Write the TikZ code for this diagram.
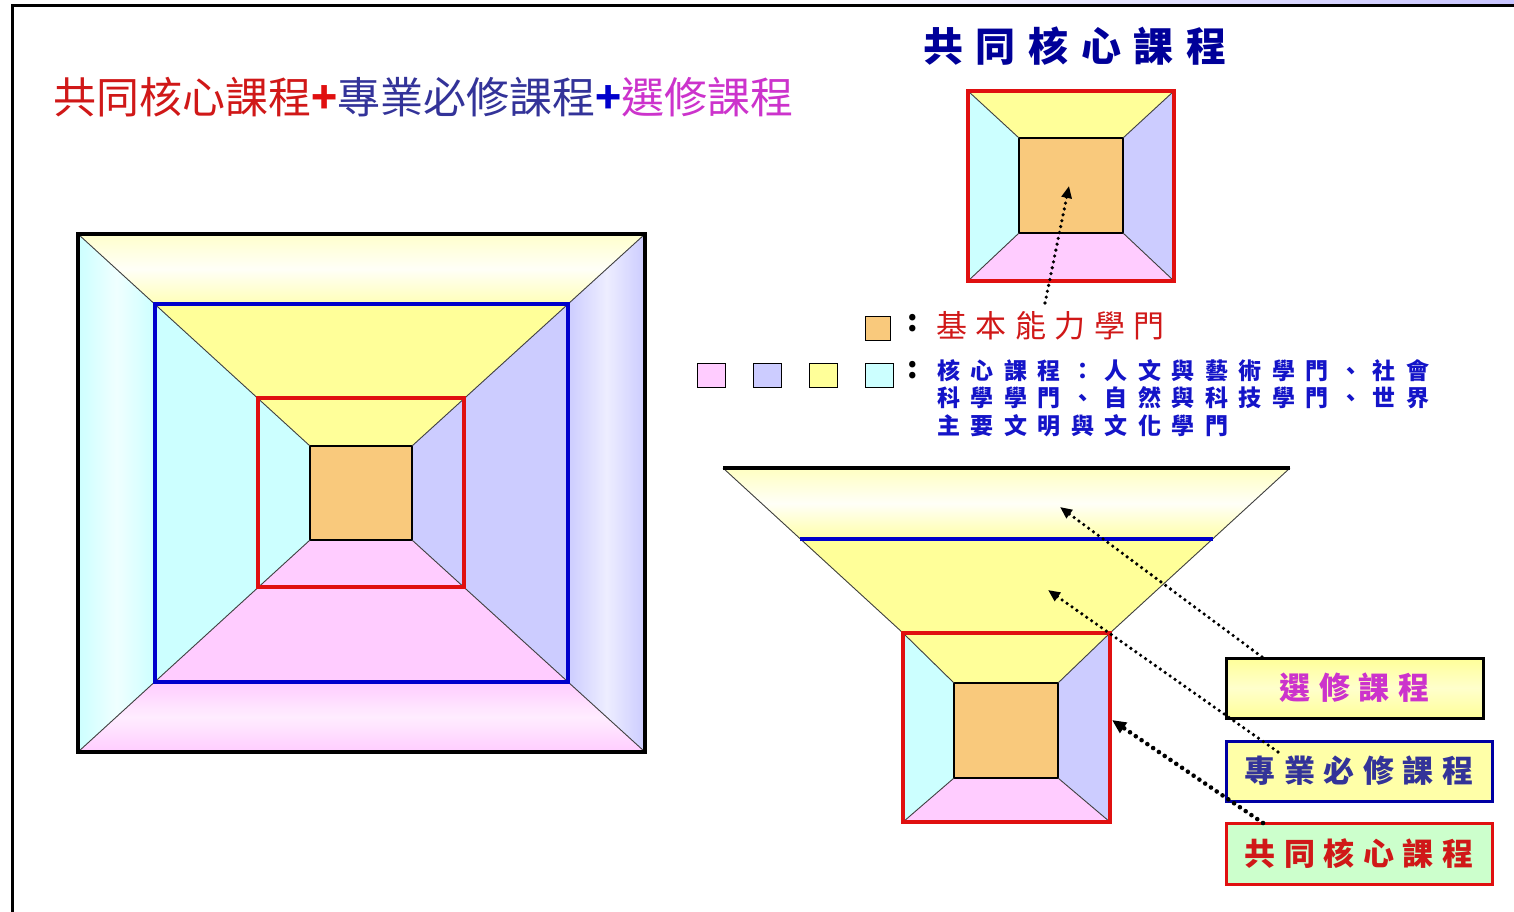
\documentclass[tikz,border=0pt]{standalone}
\usepackage{fontspec}
\newfontfamily\cjk{Noto Sans CJK TC}
\usetikzlibrary{arrows.meta}
\definecolor{cY}{HTML}{FFFF99}
\definecolor{cC}{HTML}{CCFFFF}
\definecolor{cL}{HTML}{CCCCFF}
\definecolor{cP}{HTML}{FFCCFF}
\definecolor{cO}{HTML}{F9C97C}
\definecolor{cRed}{HTML}{E01010}
\definecolor{cBlue}{HTML}{0000CC}
\definecolor{tNavy}{HTML}{000099}
\definecolor{tRed}{HTML}{D01818}
\definecolor{tBlue}{HTML}{333399}
\definecolor{tMag}{HTML}{CC33CC}
\definecolor{lgBlue}{HTML}{1414C8}
\definecolor{cG}{HTML}{CCFFCC}
\definecolor{lavtop}{HTML}{C8C4FF}
\makeatletter
\newcommand\lsp[2]{\def\lsp@k{#1}\lsp@loop#2\lsp@end}
\def\lsp@loop#1#2{#1\ifx#2\lsp@end\else\kern\lsp@k\expandafter\lsp@loop\expandafter#2\fi}
\makeatother
\begin{document}
\begin{tikzpicture}[x=1pt,y=-1pt,
  diag/.style={draw=black!75, line width=0.9},
  frameR/.style={draw=cRed, line width=4},
  frameB/.style={draw=cBlue, line width=3.5},
  inner/.style={fill=cO, draw=black, line width=1.3},
  txt/.style={inner sep=0pt, font=\cjk},
  lab/.style={inner sep=0pt, minimum height=60pt, line width=3},
  dotarrow/.style={line width=3.6, dash pattern=on 0pt off 6pt, line cap=round, -{Triangle[length=12pt,width=10pt]}},
  dotarrowb/.style={line width=4.6, dash pattern=on 0pt off 7pt, line cap=round, -{Triangle[length=14pt,width=12pt]}},
  leg/.style={draw=black, line width=1}]
\useasboundingbox (0,0) rectangle (1514,912);
\fill[white] (0,0) rectangle (1514,912);
% frame
\shade[left color=white, right color=lavtop] (820,0) rectangle (1514,5.5);
\draw[line width=3] (12,912) -- (12,6) -- (1514,6);

% ===== top-left title =====
\node[txt, anchor=west, font=\cjk\fontsize{43}{43}\selectfont] (title) at (53,97)
  {\textcolor{tRed}{共同核心課程}\textcolor{cRed}{\bfseries +}\textcolor{tBlue}{專業必修課程}\textcolor{cBlue}{\bfseries +}\textcolor{tMag}{選修課程}};

% ===== left big square =====
\coordinate (o1) at (78,234); \coordinate (o2) at (645,234);
\coordinate (o3) at (645,752); \coordinate (o4) at (78,752);
\coordinate (b1) at (155,304); \coordinate (b2) at (568,304);
\coordinate (b3) at (568,682); \coordinate (b4) at (155,682);
\coordinate (i1) at (310,446); \coordinate (i2) at (412,446);
\coordinate (i3) at (412,540); \coordinate (i4) at (310,540);
\shade[top color=cY!50, bottom color=cY!70, middle color=white!97!yellow] (o1)--(o2)--(b2)--(b1)--cycle;
\shade[left color=cC, right color=cC, middle color=white!94!cyan] (o1)--(b1)--(b4)--(o4)--cycle;
\shade[left color=cL, right color=cL, middle color=white!93!blue] (o2)--(b2)--(b3)--(o3)--cycle;
\shade[top color=cP, bottom color=cP, middle color=white!93!magenta] (o4)--(b4)--(b3)--(o3)--cycle;
\fill[cY] (b1)--(b2)--(i2)--(i1)--cycle;
\fill[cC] (b1)--(i1)--(i4)--(b4)--cycle;
\fill[cL] (b2)--(i2)--(i3)--(b3)--cycle;
\fill[cP] (b4)--(i4)--(i3)--(b3)--cycle;
\draw[inner] (i1) rectangle (i3);
\draw[diag] (o1)--(i1) (o2)--(i2) (o3)--(i3) (o4)--(i4);
\draw[frameB] (b1) rectangle (b3);
\draw[frameR] (258,398) rectangle (464,587);
\draw[line width=4] (o1) rectangle (o3);

% ===== top-right title and square =====
\node[txt, anchor=west, font=\cjk\bfseries\fontsize{40}{40}\selectfont, text=tNavy] (tr) at (923,46)
  {\lsp{12.6pt}{共同核心課程}};
\coordinate (p1) at (968,91); \coordinate (p2) at (1174,91);
\coordinate (p3) at (1174,281); \coordinate (p4) at (968,281);
\coordinate (q1) at (1019,138); \coordinate (q2) at (1123,138);
\coordinate (q3) at (1123,233); \coordinate (q4) at (1019,233);
\fill[cY] (p1)--(p2)--(q2)--(q1)--cycle;
\fill[cC] (p1)--(q1)--(q4)--(p4)--cycle;
\fill[cL] (p2)--(q2)--(q3)--(p3)--cycle;
\fill[cP] (p4)--(q4)--(q3)--(p3)--cycle;
\draw[inner] (q1) rectangle (q3);
\draw[diag] (p1)--(q1) (p2)--(q2) (p3)--(q3) (p4)--(q4);
\draw[frameR] (p1) rectangle (p3);
\coordinate (a0s) at (1045,303);
\coordinate (a0e) at (1069,186);
\draw[dotarrow] (a0s) -- (a0e);

% ===== legend =====
\draw[leg, fill=cO] (865,316) rectangle (890,340);
\node[txt, font=\cjk\bfseries\fontsize{30}{30}\selectfont] (c1) at (913,323) {:};
\node[txt, anchor=west, font=\cjk\fontsize{31}{31}\selectfont, text=tRed] (l1) at (936,326)
  {\lsp{8.5pt}{基本能力學門}};
\draw[leg, fill=cP] (697,363) rectangle (725,387);
\draw[leg, fill=cL] (753,363) rectangle (781,387);
\draw[leg, fill=cY] (809,363) rectangle (837,387);
\draw[leg, fill=cC] (865,363) rectangle (893,387);
\node[txt, font=\cjk\bfseries\fontsize{30}{30}\selectfont] (c2) at (913,370) {:};
\node[txt, anchor=north west, align=left, font=\cjk\bfseries\fontsize{23}{27.5}\selectfont, text=lgBlue] (l2) at (937,359)
  {\lsp{10.5pt}{核心課程：人文與藝術學門、社會}\\\lsp{10.5pt}{科學學門、自然與科技學門、世界}\\\lsp{10.5pt}{主要文明與文化學門}};

% ===== funnel =====
\coordinate (f1) at (723,468); \coordinate (f2) at (1290,468);
\coordinate (f3) at (1213,539); \coordinate (f4) at (800,539);
\coordinate (s1) at (903,633); \coordinate (s2) at (1110,633);
\coordinate (s3) at (1110,822); \coordinate (s4) at (903,822);
\coordinate (t1) at (954,683); \coordinate (t2) at (1058,683);
\coordinate (t3) at (1058,778); \coordinate (t4) at (954,778);
\shade[top color=cY!60, bottom color=cY!85, middle color=white!97!yellow] (f1)--(f2)--(f3)--(f4)--cycle;
\fill[cY] (f4)--(f3)--(s2)--(s1)--cycle;
\fill[cY] (s1)--(s2)--(t2)--(t1)--cycle;
\fill[cC] (s1)--(t1)--(t4)--(s4)--cycle;
\fill[cL] (s2)--(t2)--(t3)--(s3)--cycle;
\fill[cP] (s4)--(t4)--(t3)--(s3)--cycle;
\draw[inner] (t1) rectangle (t3);
\draw[diag] (f1)--(s1) (f2)--(s2);
\draw[diag] (s1)--(t1) (s2)--(t2) (s3)--(t3) (s4)--(t4);
\draw[frameB] (f4)--(f3);
\draw[frameR] (s1) rectangle (s3);
\draw[line width=3.5] (f1)--(f2);

% ===== labels =====
\node[lab, draw=black, minimum width=257pt, top color=cY, bottom color=cY, middle color=white!80!yellow,
  font=\cjk\bfseries\fontsize{31}{31}\selectfont, text=tMag] (sel) at (1354.5,688) {\lsp{8.5pt}{選修課程}};
\node[lab, draw=cBlue!80!black, minimum width=266pt, fill=cY!85,
  font=\cjk\bfseries\fontsize{31}{31}\selectfont, text=tBlue] (maj) at (1359,771) {\lsp{8.5pt}{專業必修課程}};
\node[lab, draw=cRed, minimum width=266pt, minimum height=61pt, fill=cG,
  font=\cjk\bfseries\fontsize{31}{31}\selectfont, text=tRed] (core) at (1359,853.5) {\lsp{8.5pt}{共同核心課程}};

\coordinate (a1s) at (1262,657); \coordinate (a1e) at (1060,507);
\coordinate (a2s) at (1278,752); \coordinate (a2e) at (1048,590);
\coordinate (a3s) at (1263,823); \coordinate (a3e) at (1112,720);
\draw[dotarrow] (a1s) -- (a1e);
\draw[dotarrow] (a2s) -- (a2e);
\draw[dotarrowb] (a3s) -- (a3e);
\end{tikzpicture}
\end{document}
